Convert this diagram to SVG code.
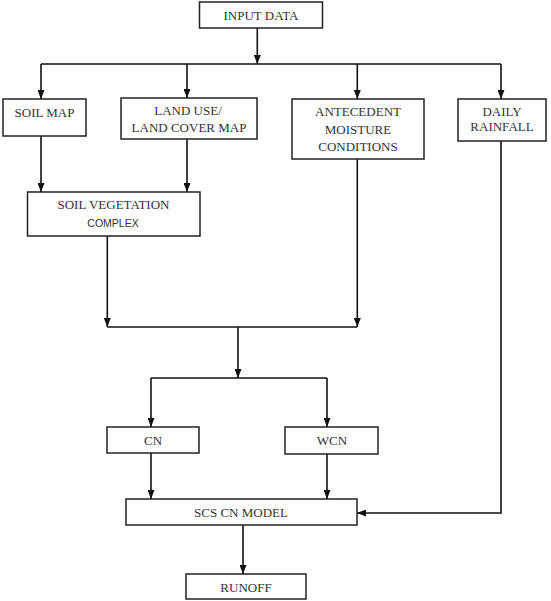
<svg xmlns="http://www.w3.org/2000/svg" width="551" height="601" viewBox="0 0 551 601">
<style>
.box{fill:#fff;stroke:#222;stroke-width:1.5}
.t{font-family:"Liberation Serif","Times New Roman",serif;font-size:13px;fill:#333;text-anchor:middle}
.s{font-family:"Liberation Sans",Arial,sans-serif;font-size:10.5px;fill:#333;text-anchor:middle}
.c{fill:none;stroke:#111;stroke-width:1.6}
</style>
<defs>
<marker id="ah" markerUnits="userSpaceOnUse" markerWidth="9" markerHeight="7" refX="9" refY="3.5" orient="auto">
<path d="M0,0 L9,3.5 L0,7 z" fill="#111"/>
</marker>
</defs>
<rect width="551" height="601" fill="#fff"/>
<g id="connectors">
<path class="c" d="M257.3,28 V64" marker-end="url(#ah)"/>
<path class="c" d="M41,64 H501"/>
<path class="c" d="M41,64 V99" marker-end="url(#ah)"/>
<path class="c" d="M187,64 V98" marker-end="url(#ah)"/>
<path class="c" d="M357.3,64 V99" marker-end="url(#ah)"/>
<path class="c" d="M501,64 V99" marker-end="url(#ah)"/>
<path class="c" d="M41,136 V192" marker-end="url(#ah)"/>
<path class="c" d="M187,139 V192" marker-end="url(#ah)"/>
<path class="c" d="M107.3,236 V327" marker-end="url(#ah)"/>
<path class="c" d="M357.3,159 V327" marker-end="url(#ah)"/>
<path class="c" d="M107.3,327 H357.3"/>
<path class="c" d="M238,327 V378" marker-end="url(#ah)"/>
<path class="c" d="M151,378 H327"/>
<path class="c" d="M151,378 V427" marker-end="url(#ah)"/>
<path class="c" d="M327,378 V427" marker-end="url(#ah)"/>
<path class="c" d="M151,453 V499" marker-end="url(#ah)"/>
<path class="c" d="M327,454 V499" marker-end="url(#ah)"/>
<path class="c" d="M501,141 V513 H357" marker-end="url(#ah)"/>
<path class="c" d="M243,525 V574" marker-end="url(#ah)"/>
</g>
<g id="input-data">
<rect class="box" x="199.5" y="2" width="123" height="26"/>
<text class="t" x="261" y="19.5">INPUT DATA</text>
</g>
<g id="soil-map">
<rect class="box" x="3" y="99" width="83" height="37"/>
<text class="t" x="44.5" y="116.5">SOIL MAP</text>
</g>
<g id="land-use">
<rect class="box" x="121" y="98" width="136" height="41"/>
<text class="t" x="188" y="114.5">LAND USE/</text>
<text class="t" x="189" y="132">LAND COVER MAP</text>
</g>
<g id="antecedent">
<rect class="box" x="292" y="99" width="132" height="60"/>
<text class="t" x="358" y="116">ANTECEDENT</text>
<text class="t" x="358" y="133.5">MOISTURE</text>
<text class="t" x="358" y="150.5">CONDITIONS</text>
</g>
<g id="daily-rainfall">
<rect class="box" x="458" y="99" width="88" height="42"/>
<text class="t" x="502" y="115.5">DAILY</text>
<text class="t" x="502" y="131">RAINFALL</text>
</g>
<g id="soil-vegetation">
<rect class="box" x="27.5" y="192" width="172.5" height="44"/>
<text class="t" x="113.5" y="209">SOIL VEGETATION</text>
<text class="s" x="113" y="226.5">COMPLEX</text>
</g>
<g id="cn">
<rect class="box" x="107" y="427" width="92" height="26"/>
<text class="t" x="153" y="444.5">CN</text>
</g>
<g id="wcn">
<rect class="box" x="285" y="427" width="93" height="27"/>
<text class="t" x="332" y="444.5">WCN</text>
</g>
<g id="scs-cn-model">
<rect class="box" x="126" y="499" width="231" height="26"/>
<text class="t" x="241" y="517">SCS CN MODEL</text>
</g>
<g id="runoff">
<rect class="box" x="186" y="574" width="120" height="25"/>
<text class="t" x="246" y="591.5">RUNOFF</text>
</g>
</svg>
